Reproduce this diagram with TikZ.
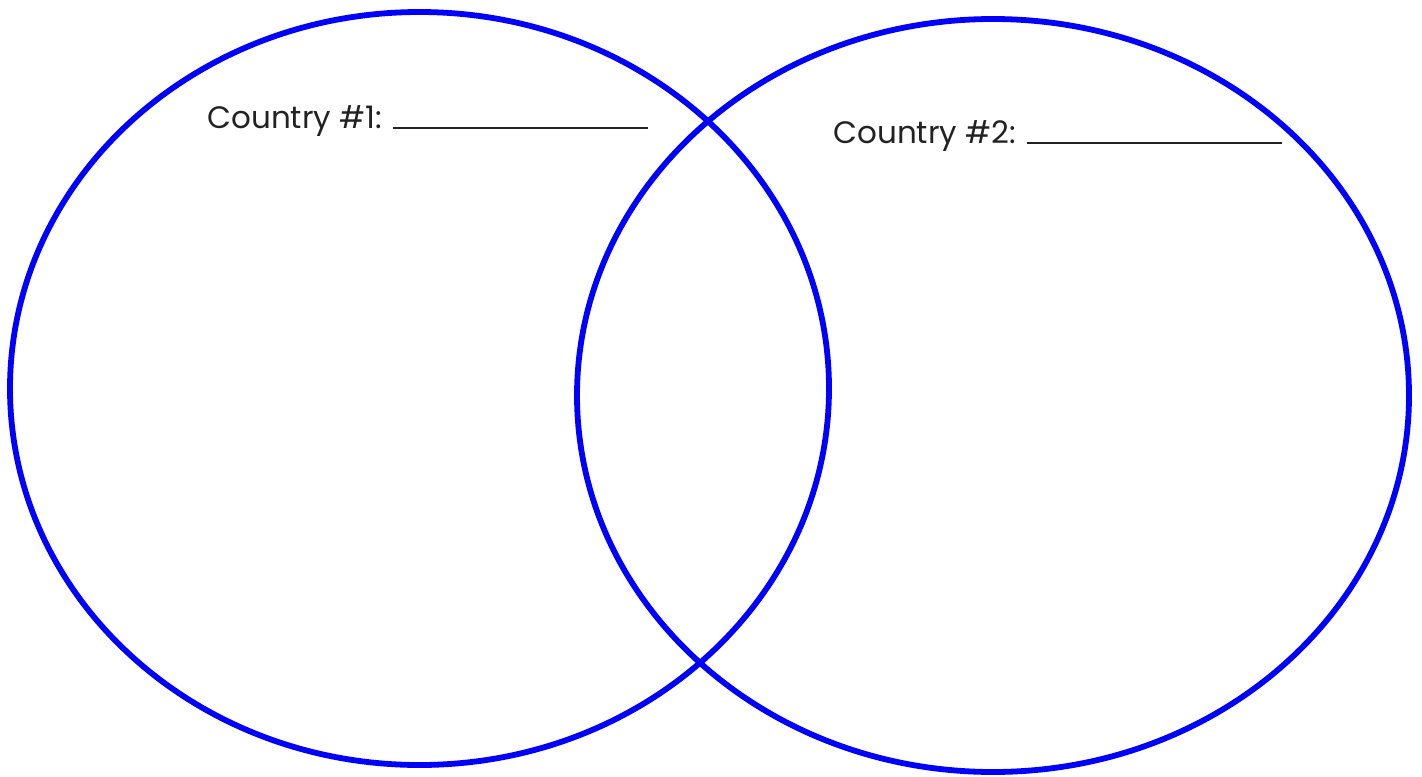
\documentclass[tikz,border=0pt]{standalone}
\usepackage{fontspec}
\setmainfont{Poppins}
\definecolor{vblue}{RGB}{0,0,255}
\definecolor{txt}{RGB}{34,34,34}
\begin{document}
\begin{tikzpicture}[x=0.5pt,y=-0.5pt,
  ring/.style={draw=vblue,line width=2.9pt},
  lbl/.style={anchor=base west,inner sep=0pt,text=txt,font=\fontsize{15.5}{18}\selectfont}]
\useasboundingbox (0,0) rectangle (1422,776);
\draw[ring] (419.5,388.5) ellipse [x radius=409.5, y radius=376.5];
\draw[ring] (993,395.5) ellipse [x radius=416, y radius=376.5];
\node[lbl] (c1) at (207,128) {Country \#1: \rule[-0.4pt]{127.5pt}{0.9pt}};
\node[lbl] (c2) at (833,143) {Country \#2: \rule[-0.4pt]{127.5pt}{0.9pt}};
\end{tikzpicture}
\end{document}
